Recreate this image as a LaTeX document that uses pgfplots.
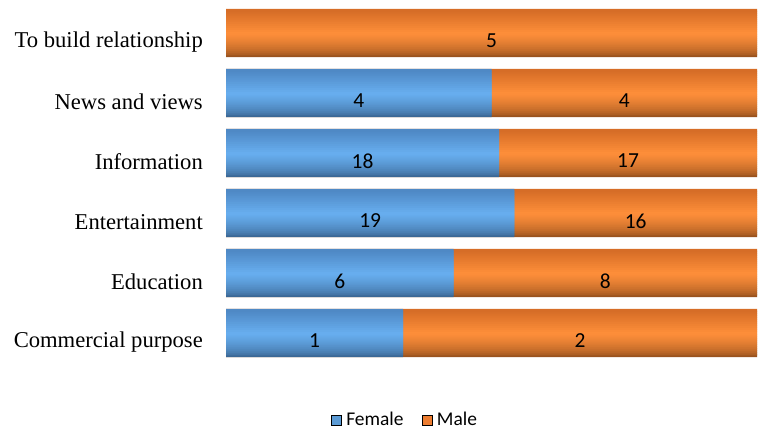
\documentclass[border=0pt]{standalone}
\usepackage{pgfplots}
\pgfplotsset{compat=1.18}
\usepackage{fontspec}
\setmainfont{Liberation Serif}
\newfontfamily\calibri{Carlito}
\definecolor{fem}{RGB}{91,155,213}
\definecolor{femT}{RGB}{78,135,195}
\definecolor{femL}{RGB}{104,175,240}
\definecolor{femB}{RGB}{48,86,126}
\definecolor{mal}{RGB}{237,125,49}
\definecolor{malT}{RGB}{212,108,38}
\definecolor{malL}{RGB}{255,143,58}
\definecolor{malB}{RGB}{128,68,24}
% vertical gradient of the cylinder bars: 24 strips, strip 0 at the bottom
\foreach \k in {0,...,23}{%
  \pgfmathsetmacro{\t}{(\k+0.5)/24}%
  \ifdim\t pt<0.5pt
    \pgfmathsetmacro{\p}{100*sqrt(\t/0.5)}%
    \xglobal\colorlet{fs\k}{femL!\p!femB}%
    \xglobal\colorlet{ms\k}{malL!\p!malB}%
  \else
    \pgfmathsetmacro{\p}{100*(1-\t)/0.5}%
    \xglobal\colorlet{fs\k}{femL!\p!femT}%
    \xglobal\colorlet{ms\k}{malL!\p!malT}%
  \fi
}
\begin{document}
\begin{tikzpicture}
\path[use as bounding box] (0,0) rectangle (759bp,430bp);
\begin{axis}[
  scale only axis, width=531bp, height=360bp,
  at={(226bp,67bp)}, anchor=south west,
  xmin=0, xmax=100, ymin=-0.5, ymax=5.5,
  hide x axis,
  axis y line*=left, y axis line style={draw=none},
  major tick length=0pt,
  ytick={0,1,2,3,4,5},
  yticklabels={Commercial purpose, Education, Entertainment, Information, News and views, To build relationship},
  yticklabel style={font=\fontsize{22.7}{26}\selectfont, inner sep=0pt, anchor=east, xshift=-23bp, yshift=-9bp},
  clip=false,
  legend style={at={(0.337,-0.158)}, anchor=center, draw=none, fill=none,
    legend columns=2, font=\calibri\fontsize{19.5}{22}\selectfont,
    /tikz/every odd column/.append style={column sep=3bp},
    /tikz/every even column/.append style={column sep=16bp}},
  legend image code/.code={\fill[#1] (0bp,-5bp) rectangle (10bp,5bp);},
]
% Male segments end at 100% (Female + Male)
\pgfplotsinvokeforeach{0,...,23}{
  \addplot[xbar, bar width=3.4bp, bar shift={(#1-11.5)*1.9583bp}, draw=none, fill=ms#1, forget plot]
    coordinates {(100,0) (100,1) (100,2) (100,3) (100,4) (100,5)};
}
% Female share (%): 1/3, 6/14, 19/35, 18/35, 4/8
\pgfplotsinvokeforeach{0,...,23}{
  \addplot[xbar, bar width=3.4bp, bar shift={(#1-11.5)*1.9583bp}, draw=none, fill=fs#1, forget plot]
    coordinates {(33.333,0) (42.857,1) (54.286,2) (51.429,3) (50,4)};
}
% value labels, centred in each segment
\addplot[only marks, mark=none, forget plot, point meta=explicit symbolic,
  nodes near coords,
  every node near coord/.style={anchor=center, font=\calibri\fontsize{21.5}{24}\selectfont, text=black, yshift=-8bp}]
  coordinates {(16.667,0)[1] (21.429,1)[6] (27.143,2)[19] (25.714,3)[18] (25,4)[4]
               (66.667,0)[2] (71.429,1)[8] (77.143,2)[16] (75.714,3)[17] (75,4)[4] (50,5)[5]};
\addlegendimage{fill=fem}
\addlegendentry{Female}
\addlegendimage{fill=mal}
\addlegendentry{Male}
\end{axis}
\end{tikzpicture}
\end{document}
